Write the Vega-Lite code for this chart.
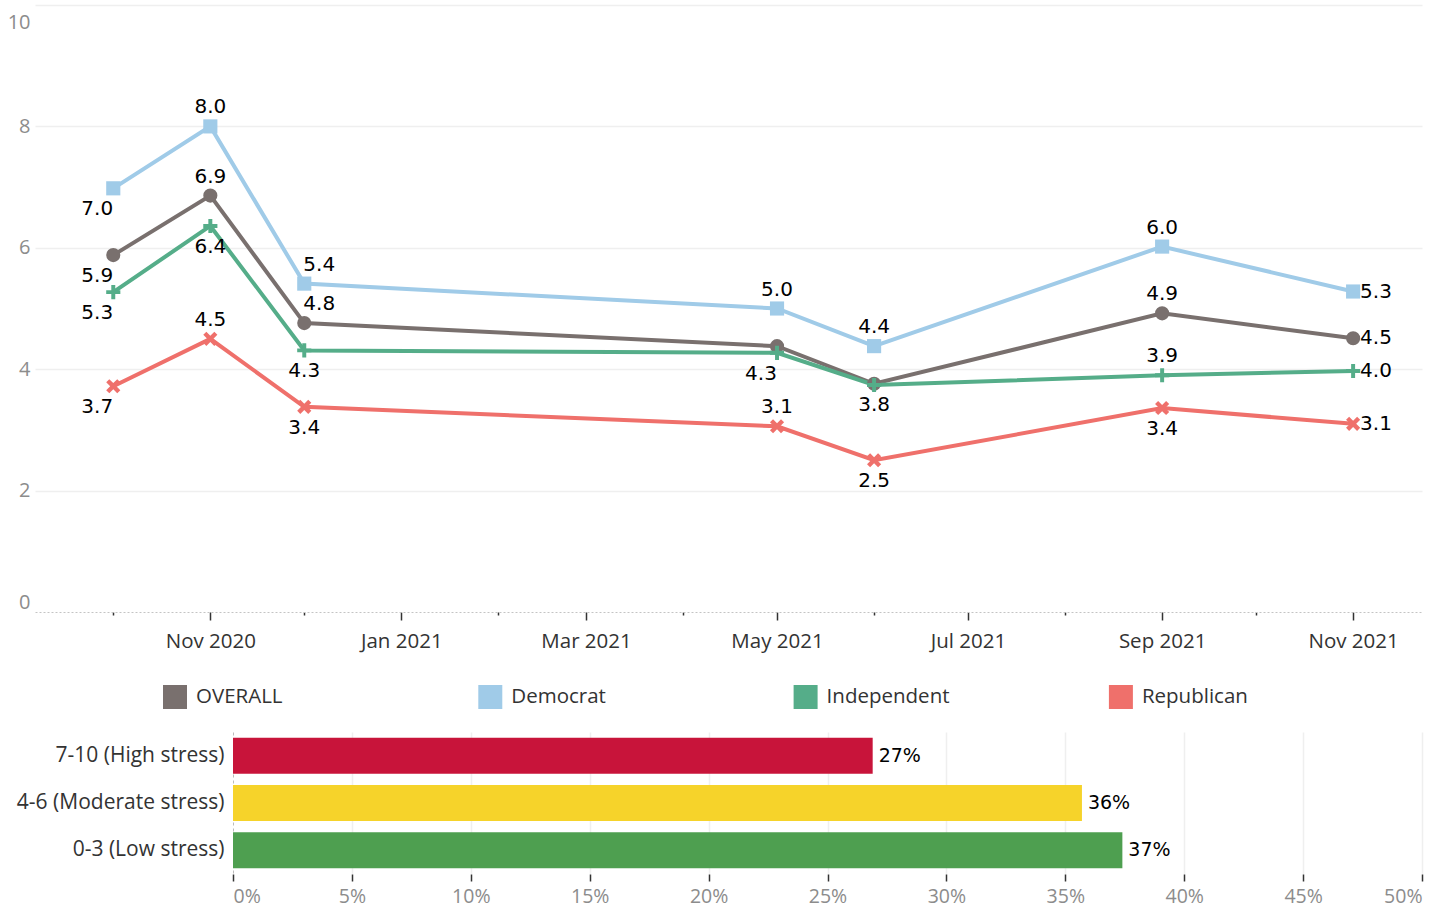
{
  "$schema": "https://vega.github.io/schema/vega-lite/v6.json",
  "background": "white",
  "padding": {"left": 7, "top": 5, "right": 10, "bottom": 2},
  "config": {"view": {"stroke": null}, "font": "Open Sans"},
  "bounds": "flush",
  "spacing": 120,
  "resolve": {"scale": {"color": "independent", "x": "independent", "y": "independent"}, "legend": {"color": "independent"}},
  "vconcat": [
    {
      "width": 1387,
      "height": 607,
      "data": {"values": [
        {"party": "OVERALL", "wave": 1, "date": "2020-10-01", "score": 5.88},
        {"party": "OVERALL", "wave": 2, "date": "2020-11-01", "score": 6.86},
        {"party": "OVERALL", "wave": 3, "date": "2020-12-01", "score": 4.76},
        {"party": "OVERALL", "wave": 4, "date": "2021-05-01", "score": 4.38},
        {"party": "OVERALL", "wave": 5, "date": "2021-06-01", "score": 3.76},
        {"party": "OVERALL", "wave": 6, "date": "2021-09-01", "score": 4.92},
        {"party": "OVERALL", "wave": 7, "date": "2021-11-01", "score": 4.51},
        {"party": "Democrat", "wave": 1, "date": "2020-10-01", "score": 6.98},
        {"party": "Democrat", "wave": 2, "date": "2020-11-01", "score": 8.0},
        {"party": "Democrat", "wave": 3, "date": "2020-12-01", "score": 5.41},
        {"party": "Democrat", "wave": 4, "date": "2021-05-01", "score": 5.0},
        {"party": "Democrat", "wave": 5, "date": "2021-06-01", "score": 4.38},
        {"party": "Democrat", "wave": 6, "date": "2021-09-01", "score": 6.02},
        {"party": "Democrat", "wave": 7, "date": "2021-11-01", "score": 5.28},
        {"party": "Independent", "wave": 1, "date": "2020-10-01", "score": 5.27},
        {"party": "Independent", "wave": 2, "date": "2020-11-01", "score": 6.36},
        {"party": "Independent", "wave": 3, "date": "2020-12-01", "score": 4.31},
        {"party": "Independent", "wave": 4, "date": "2021-05-01", "score": 4.27},
        {"party": "Independent", "wave": 5, "date": "2021-06-01", "score": 3.74},
        {"party": "Independent", "wave": 6, "date": "2021-09-01", "score": 3.9},
        {"party": "Independent", "wave": 7, "date": "2021-11-01", "score": 3.97},
        {"party": "Republican", "wave": 1, "date": "2020-10-01", "score": 3.72},
        {"party": "Republican", "wave": 2, "date": "2020-11-01", "score": 4.5},
        {"party": "Republican", "wave": 3, "date": "2020-12-01", "score": 3.38},
        {"party": "Republican", "wave": 4, "date": "2021-05-01", "score": 3.06},
        {"party": "Republican", "wave": 5, "date": "2021-06-01", "score": 2.5},
        {"party": "Republican", "wave": 6, "date": "2021-09-01", "score": 3.36},
        {"party": "Republican", "wave": 7, "date": "2021-11-01", "score": 3.1}
      ]},
      "encoding": {
        "x": {
          "field": "date", "type": "temporal",
          "scale": {"type": "utc", "domain": [{"year": 2020, "month": "sep", "date": 6, "utc": true}, {"year": 2021, "month": "nov", "date": 23, "utc": true}]},
          "axis": {
            "title": null,
            "domain": true, "domainColor": "#c4c4c4", "domainDash": [2, 2], "domainWidth": 1,
            "grid": false,
            "tickCount": {"interval": "month", "step": 1},
            "tickColor": "#333333", "tickWidth": 1.5,
            "tickSize": {"condition": {"test": "utcmonth(datum.value) % 2 == 0", "value": 8}, "value": 3},
            "labelExpr": "utcmonth(datum.value) % 2 == 0 ? utcFormat(datum.value, '%b %Y') : ''",
            "labelFont": "Open Sans", "labelFontSize": 20.5, "labelColor": "#333333",
            "labelPadding": 11, "labelOverlap": false, "labelFlush": false
          }
        },
        "y": {
          "field": "score", "type": "quantitative",
          "scale": {"domain": [0, 10]},
          "axis": {
            "title": null, "values": [0, 2, 4, 6, 8, 10],
            "domain": false, "ticks": false,
            "grid": true, "gridColor": "#efefef", "gridWidth": 1.5,
            "gridOpacity": {"condition": {"test": "datum.value == 0", "value": 0}, "value": 1},
            "labelFlush": true,
            "labelOffset": {"condition": {"test": "datum.value == 10", "value": 7}, "value": 0},
            "labelFont": "Open Sans", "labelFontSize": 20, "labelColor": "#8c8c8c", "labelPadding": 5
          }
        }
      },
      "layer": [
        {
          "mark": {"type": "line", "strokeWidth": 4},
          "encoding": {
            "color": {
              "field": "party", "type": "nominal",
              "scale": {"domain": ["OVERALL", "Democrat", "Independent", "Republican"], "range": ["#79706e", "#a0cbe8", "#55ad89", "#ef706b"]},
              "legend": {
                "title": null, "orient": "none", "legendX": 128, "legendY": 680,
                "direction": "horizontal", "columns": 4, "gridAlign": "all", "columnPadding": 159.3,
                "symbolType": "square", "symbolSize": 576, "symbolStrokeWidth": 0, "symbolOpacity": 1,
                "labelFont": "Open Sans", "labelFontSize": 20.5, "labelColor": "#333333", "labelOffset": 9, "padding": 0
              }
            }
          }
        },
        {
          "mark": {"type": "point", "filled": true, "opacity": 1, "size": 200},
          "encoding": {
            "color": {
              "field": "party", "type": "nominal",
              "scale": {"domain": ["OVERALL", "Democrat", "Independent", "Republican"], "range": ["#79706e", "#a0cbe8", "#55ad89", "#ef706b"]},
              "legend": {
                "title": null, "orient": "none", "legendX": 128, "legendY": 680,
                "direction": "horizontal", "columns": 4, "gridAlign": "all", "columnPadding": 159.3,
                "symbolType": "square", "symbolSize": 576, "symbolStrokeWidth": 0, "symbolOpacity": 1,
                "labelFont": "Open Sans", "labelFontSize": 20.5, "labelColor": "#333333", "labelOffset": 9, "padding": 0
              }
            },
            "shape": {
              "field": "party", "type": "nominal",
              "scale": {"domain": ["OVERALL", "Democrat", "Independent", "Republican"], "range": ["circle", "square", "M-0.28,-1H0.28V-0.28H1V0.28H0.28V1H-0.28V0.28H-1V-0.28H-0.28Z", "M0.5625,-1L1,-0.5625L0.4375,0L1,0.5625L0.5625,1L0,0.4375L-0.5625,1L-1,0.5625L-0.4375,0L-1,-0.5625L-0.5625,-1L0,-0.4375Z"]},
              "legend": null
            }
          }
        },
        {
          "transform": [{"filter": "(datum.party == 'OVERALL' && indexof([2, 6], datum.wave) >= 0) || (datum.party == 'Democrat' && indexof([2, 4, 5, 6], datum.wave) >= 0) || (datum.party == 'Independent' && datum.wave == 6) || (datum.party == 'Republican' && indexof([2, 4], datum.wave) >= 0)"}],
          "mark": {"type": "text", "font": "DejaVu Sans", "fontSize": 20, "color": "#000000", "baseline": "middle", "dy": -19},
          "encoding": {"text": {"field": "score", "type": "quantitative", "format": ".1f"}}
        },
        {
          "transform": [{"filter": "datum.wave == 3 && (datum.party == 'OVERALL' || datum.party == 'Democrat')"}],
          "mark": {"type": "text", "font": "DejaVu Sans", "fontSize": 20, "color": "#000000", "baseline": "middle", "dy": -19, "dx": 15},
          "encoding": {"text": {"field": "score", "type": "quantitative", "format": ".1f"}}
        },
        {
          "transform": [{"filter": "(datum.party == 'OVERALL' && datum.wave == 5) || (datum.party == 'Independent' && indexof([2, 3], datum.wave) >= 0) || (datum.party == 'Republican' && indexof([3, 5, 6], datum.wave) >= 0)"}],
          "mark": {"type": "text", "font": "DejaVu Sans", "fontSize": 20, "color": "#000000", "baseline": "middle", "dy": 21},
          "encoding": {"text": {"field": "score", "type": "quantitative", "format": ".1f"}}
        },
        {
          "transform": [{"filter": "datum.wave == 1 || (datum.party == 'Independent' && datum.wave == 4)"}],
          "mark": {"type": "text", "font": "DejaVu Sans", "fontSize": 20, "color": "#000000", "baseline": "middle", "dy": 21, "dx": -16},
          "encoding": {"text": {"field": "score", "type": "quantitative", "format": ".1f"}}
        },
        {
          "transform": [{"filter": "datum.wave == 7"}],
          "mark": {"type": "text", "font": "DejaVu Sans", "fontSize": 20, "color": "#000000", "baseline": "middle", "align": "left", "dx": 7},
          "encoding": {"text": {"field": "score", "type": "quantitative", "format": ".1f"}}
        }
      ]
    },
    {
      "width": 1387,
      "height": 142,
      "data": {"values": [
        {"stress": "7-10 (High stress)", "share": 0.269},
        {"stress": "4-6 (Moderate stress)", "share": 0.357},
        {"stress": "0-3 (Low stress)", "share": 0.374}
      ]},
      "encoding": {
        "y": {
          "field": "stress", "type": "nominal", "sort": null,
          "scale": {"paddingInner": 0.24, "paddingOuter": 0.12},
          "axis": {
            "title": null, "offset": -198,
            "domain": true, "domainDash": [3, 3], "domainColor": "#bbbbbb", "domainWidth": 1,
            "ticks": false, "grid": false,
            "labelFont": "Open Sans", "labelFontSize": 21, "labelColor": "#333333", "labelPadding": 9, "labelLimit": 400
          }
        },
        "x": {
          "field": "share", "type": "quantitative",
          "scale": {"domain": [0, 0.5], "range": [198, 1387]},
          "axis": {
            "title": null, "values": [0, 0.05, 0.1, 0.15, 0.2, 0.25, 0.3, 0.35, 0.4, 0.45, 0.5],
            "format": ".0%", "domain": false,
            "grid": true, "gridColor": "#efefef", "gridWidth": 1.5,
            "gridOpacity": {"condition": {"test": "datum.value == 0", "value": 0}, "value": 1},
            "ticks": true, "tickSize": 7, "tickColor": "#333333", "tickWidth": 1.5,
            "labelFlush": true, "labelFont": "Open Sans", "labelColor": "#8c8c8c", "labelFontSize": 19.5, "labelPadding": 6
          }
        }
      },
      "layer": [
        {
          "mark": {"type": "bar"},
          "encoding": {
            "color": {
              "field": "stress", "type": "nominal",
              "scale": {"domain": ["7-10 (High stress)", "4-6 (Moderate stress)", "0-3 (Low stress)"], "range": ["#c8143a", "#f6d32a", "#4e9f50"]},
              "legend": null
            }
          }
        },
        {
          "mark": {"type": "text", "align": "left", "baseline": "middle", "dx": 6, "font": "DejaVu Sans", "fontSize": 19, "color": "#000000"},
          "encoding": {"text": {"field": "share", "type": "quantitative", "format": ".0%"}}
        }
      ]
    }
  ]
}
